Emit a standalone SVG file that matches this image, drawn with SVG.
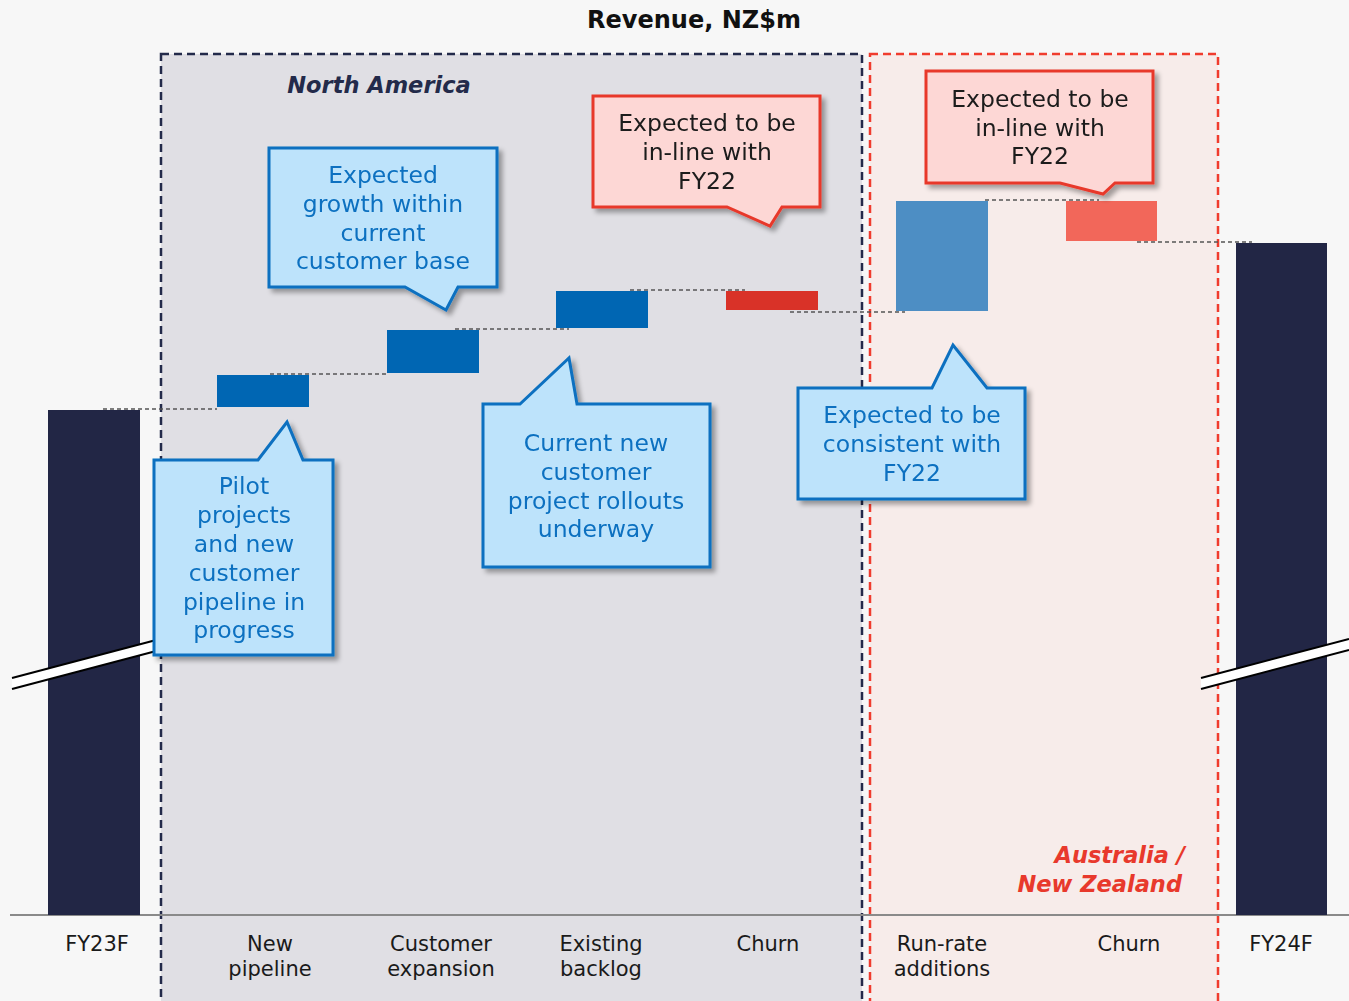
<svg xmlns="http://www.w3.org/2000/svg" width="1349" height="1001" viewBox="0 0 1349 1001">
<defs>
<filter id="sh" x="-10%" y="-10%" width="130%" height="130%">
<feGaussianBlur in="SourceAlpha" stdDeviation="2.5"/>
<feOffset dx="4" dy="4" result="b"/>
<feComponentTransfer><feFuncA type="linear" slope="0.35"/></feComponentTransfer>
<feMerge><feMergeNode/><feMergeNode in="SourceGraphic"/></feMerge>
</filter>
</defs>
<style>
text{font-family:"DejaVu Sans","Open Sans","Liberation Sans",sans-serif}
.blue{fill:#bde3fb;stroke:#0a70c0;stroke-width:3;stroke-linejoin:miter}
.red{fill:#fdd7d5;stroke:#e8392c;stroke-width:3;stroke-linejoin:miter}
.bt{fill:#0a70c0;font-size:23.5px;text-anchor:middle}
.rt{fill:#1a1a1a;font-size:23.5px;text-anchor:middle}
.ax{fill:#1a1a1a;font-size:21px;text-anchor:middle}
.dl{stroke:#555;stroke-width:1.3;stroke-dasharray:4 3;fill:none}
.nav{fill:#222645}
</style>
<rect width="1349" height="1001" fill="#f7f7f7"/>
<text x="694" y="28" font-size="24" font-weight="bold" text-anchor="middle" fill="#111">Revenue, NZ$m</text>

<g id="region-na">
<rect x="161" y="54" width="701" height="960" fill="#e0dfe4" stroke="#232a4a" stroke-width="2.5" stroke-dasharray="8 5"/>
<text x="379" y="93" font-size="22.5" font-weight="bold" font-style="italic" fill="#232a4a" text-anchor="middle">North America</text>
</g>
<g id="region-anz">
<rect x="870" y="54" width="348" height="960" fill="#f7ecea" stroke="#f03c2e" stroke-width="2.5" stroke-dasharray="8 5"/>
<text x="1185" y="863" font-size="22.5" font-weight="bold" font-style="italic" fill="#e8392c" text-anchor="end">Australia /</text>
<text x="1182" y="892" font-size="22.5" font-weight="bold" font-style="italic" fill="#e8392c" text-anchor="end">New Zealand</text>
</g>

<line x1="10" y1="915" x2="1349" y2="915" stroke="#8a8a8a" stroke-width="2"/>

<g id="connectors">
<line class="dl" x1="103" y1="409" x2="217" y2="409"/>
<line class="dl" x1="270" y1="374" x2="386" y2="374"/>
<line class="dl" x1="455" y1="329" x2="569" y2="329"/>
<line class="dl" x1="630" y1="290" x2="745" y2="290"/>
<line class="dl" x1="790" y1="312" x2="905" y2="312"/>
<line class="dl" x1="985" y1="200" x2="1099" y2="200"/>
<line class="dl" x1="1137" y1="242" x2="1252" y2="242"/>
</g>

<g id="bar-fy23f"><rect class="nav" x="48" y="410" width="92" height="505"/></g>
<g id="bar-fy24f"><rect class="nav" x="1236" y="243" width="91" height="672"/></g>
<g id="bar-new-pipeline"><rect x="217" y="375" width="92" height="32" fill="#0066b3"/></g>
<g id="bar-customer-expansion"><rect x="387" y="330" width="92" height="43" fill="#0066b3"/></g>
<g id="bar-existing-backlog"><rect x="556" y="291" width="92" height="37" fill="#0066b3"/></g>
<g id="bar-churn-na"><rect x="726" y="291" width="92" height="19" fill="#d93228"/></g>
<g id="bar-runrate"><rect x="896" y="201" width="92" height="110" fill="#4d8ec4"/></g>
<g id="bar-churn-anz"><rect x="1066" y="201" width="91" height="40" fill="#f2675a"/></g>

<g id="break-left">
<polygon points="12,678 160,639 160,650 12,689" fill="#fff"/>
<line x1="12" y1="678" x2="160" y2="639" stroke="#000" stroke-width="2"/>
<line x1="12" y1="689" x2="160" y2="650" stroke="#000" stroke-width="2"/>
</g>
<g id="break-right">
<polygon points="1201,678 1349,639 1349,650 1201,689" fill="#fff"/>
<line x1="1201" y1="678" x2="1349" y2="639" stroke="#000" stroke-width="2"/>
<line x1="1201" y1="689" x2="1349" y2="650" stroke="#000" stroke-width="2"/>
</g>

<g id="callout-growth" filter="url(#sh)">
<path class="blue" d="M269,148 H497 V287 H458 L446,310 L405,287 H269 Z"/>
<text class="bt" x="383" y="183">Expected</text>
<text class="bt" x="383" y="212">growth within</text>
<text class="bt" x="383" y="241">current</text>
<text class="bt" x="383" y="269">customer base</text>
</g>

<g id="callout-pilot" filter="url(#sh)">
<path class="blue" d="M154,460 H258 L287,422 L303,460 H333 V655 H154 Z"/>
<text class="bt" x="244" y="494">Pilot</text>
<text class="bt" x="244" y="523">projects</text>
<text class="bt" x="244" y="552">and new</text>
<text class="bt" x="244" y="581">customer</text>
<text class="bt" x="244" y="610">pipeline in</text>
<text class="bt" x="244" y="638">progress</text>
</g>

<g id="callout-current" filter="url(#sh)">
<path class="blue" d="M483,404 H520 L569,358 L577,404 H710 V567 H483 Z"/>
<text class="bt" x="596" y="451">Current new</text>
<text class="bt" x="596" y="480">customer</text>
<text class="bt" x="596" y="509">project rollouts</text>
<text class="bt" x="596" y="537">underway</text>
</g>

<g id="callout-na-churn" filter="url(#sh)">
<path class="red" d="M593,96 H820 V207 H782 L770,226 L727,207 H593 Z"/>
<text class="rt" x="707" y="131">Expected to be</text>
<text class="rt" x="707" y="160">in-line with</text>
<text class="rt" x="707" y="189">FY22</text>
</g>

<g id="callout-anz-churn" filter="url(#sh)">
<path class="red" d="M926,71 H1153 V183 H1115 L1103,194 L1060,183 H926 Z"/>
<text class="rt" x="1040" y="107">Expected to be</text>
<text class="rt" x="1040" y="136">in-line with</text>
<text class="rt" x="1040" y="164">FY22</text>
</g>

<g id="callout-runrate" filter="url(#sh)">
<path class="blue" d="M798,388 H932 L953,345 L987,388 H1025 V499 H798 Z"/>
<text class="bt" x="912" y="423">Expected to be</text>
<text class="bt" x="912" y="452">consistent with</text>
<text class="bt" x="912" y="481">FY22</text>
</g>

<g id="axis-labels">
<text class="ax" x="97" y="951">FY23F</text>
<text class="ax" x="270" y="951">New</text>
<text class="ax" x="270" y="976">pipeline</text>
<text class="ax" x="441" y="951">Customer</text>
<text class="ax" x="441" y="976">expansion</text>
<text class="ax" x="601" y="951">Existing</text>
<text class="ax" x="601" y="976">backlog</text>
<text class="ax" x="768" y="951">Churn</text>
<text class="ax" x="942" y="951">Run-rate</text>
<text class="ax" x="942" y="976">additions</text>
<text class="ax" x="1129" y="951">Churn</text>
<text class="ax" x="1281" y="951">FY24F</text>
</g>
</svg>
